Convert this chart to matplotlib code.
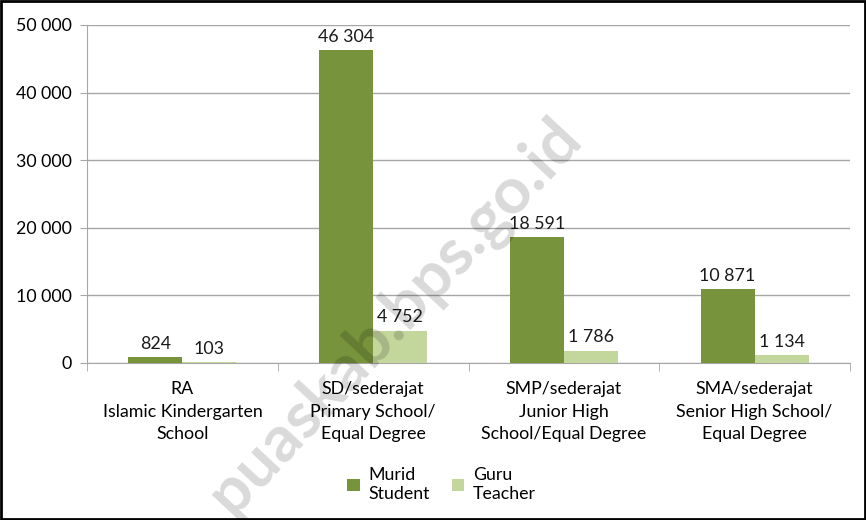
import numpy as np
import matplotlib.pyplot as plt
from matplotlib.patches import Rectangle

categories = ["RA\nIslamic Kindergarten\nSchool",
              "SD/sederajat\nPrimary School/\nEqual Degree",
              "SMP/sederajat\nJunior High\nSchool/Equal Degree",
              "SMA/sederajat\nSenior High School/\nEqual Degree"]
murid = [824, 46304, 18591, 10871]
guru = [103, 4752, 1786, 1134]
yticks = [0, 10000, 20000, 30000, 40000, 50000]

plt.rcParams['font.family'] = ['Lato', 'DejaVu Sans']
plt.rcParams['font.size'] = 12.8


def fmt(v):
    return f"{v:,}".replace(",", " ")


fig = plt.figure(figsize=(8.66, 5.2), dpi=100)
ax = fig.add_axes([0.1005, 0.302, 0.881, 0.65])

x = np.arange(len(categories))
w = 0.283
b1 = ax.bar(x - w / 2, murid, w, color="#77933C", label="Murid\nStudent", zorder=3)
b2 = ax.bar(x + w / 2, guru, w, color="#C3D69B", label="Guru\nTeacher", zorder=3)

for bars, vals in ((b1, murid), (b2, guru)):
    for r, v in zip(bars, vals):
        ax.text(r.get_x() + r.get_width() / 2, v + 800, fmt(v),
                ha="center", va="bottom", color="#1a1a1a")

ax.set_xlim(-0.5, len(categories) - 0.5)
ax.set_ylim(0, 50000)
ax.set_yticks(yticks)
ax.set_yticklabels([fmt(t) for t in yticks])
ax.yaxis.grid(True, color="#a6a6a6", linewidth=1, zorder=0)

ax.set_xticks(x)
ax.set_xticklabels(categories, linespacing=1.5)
ax.set_xticks(np.arange(len(categories) + 1) - 0.5, minor=True)
ax.tick_params(axis="x", which="major", length=0, pad=13)
ax.tick_params(axis="x", which="minor", length=6, color="#a6a6a6")
ax.tick_params(axis="y", length=5, color="#a6a6a6", pad=6)

for s in ("top", "right"):
    ax.spines[s].set_visible(False)
for s in ("left", "bottom"):
    ax.spines[s].set_color("#a6a6a6")

fig.legend(loc="center", bbox_to_anchor=(0.51, 0.068), ncol=2, frameon=False,
           handlelength=0.7, handleheight=0.7, handletextpad=0.5,
           columnspacing=1.2, labelspacing=0.3)

fig.text(0.457, 0.39, "puaskab.bps.go.id", rotation=47, ha="center", va="center",
         fontsize=47, fontweight="bold", color="black", alpha=0.15, zorder=10)

fig.patches.append(Rectangle((0.0015, 0.0025), 0.997, 0.995, transform=fig.transFigure,
                             fill=False, edgecolor="black", linewidth=2))

fig.savefig("out.png", dpi=100)
